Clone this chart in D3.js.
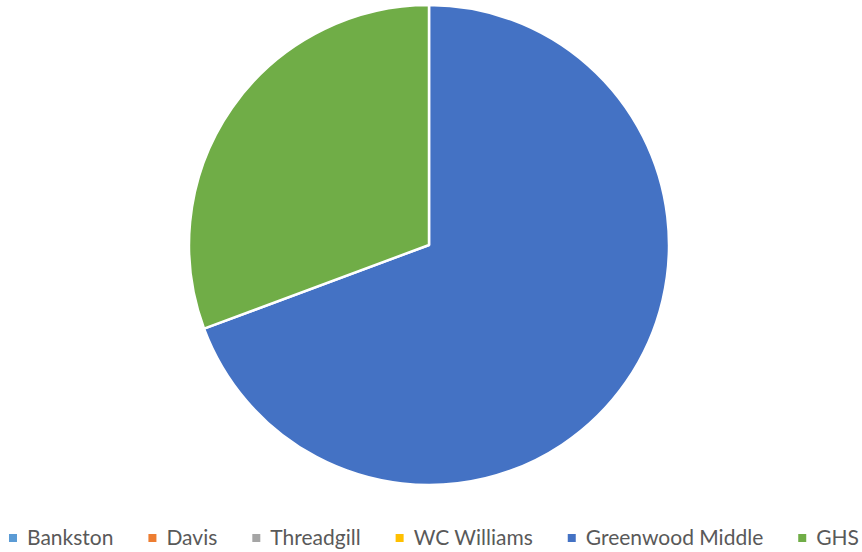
<!DOCTYPE html>
<html>
<head>
    <script src="https://d3js.org/d3.v7.min.js"></script>
    <style>
        body { margin: 0; padding: 0; background: white; }
        .legend-label { font-family: Lato, sans-serif; font-size: 21px; fill: #595959; }
    </style>
</head>
<body>
    <svg id="chart" width="862" height="552"></svg>
    <script>
        const schools = ['Bankston', 'Davis', 'Threadgill', 'WC Williams', 'Greenwood Middle', 'GHS'];
        const counts = [0, 0, 0, 0, 52, 23];
        const colors = ['#5B9BD5', '#ED7D31', '#A5A5A5', '#FFC000', '#4472C4', '#70AD47'];

        const svg = d3.select('#chart');
        const cx = 429, cy = 245, radius = 240;

        const data = schools.map((s, i) => ({ name: s, value: counts[i], color: colors[i] }));

        const pie = d3.pie().sort(null).value(d => d.value);
        const arc = d3.arc().innerRadius(0).outerRadius(radius);

        // slices
        svg.append('g')
            .attr('transform', `translate(${cx},${cy})`)
            .selectAll('path')
            .data(pie(data).filter(d => d.data.value > 0))
            .join('path')
            .attr('d', arc)
            .attr('fill', d => d.data.color)
            .attr('stroke', 'white')
            .attr('stroke-width', 2.5)
            .attr('stroke-linejoin', 'round');

        // legend
        const legend = svg.append('g');
        const sq = 8, textGap = 10, itemGap = 35, legendY = 538;
        const items = legend.selectAll('g')
            .data(data)
            .join('g');
        items.append('rect')
            .attr('width', sq).attr('height', sq)
            .attr('y', legendY - sq / 2)
            .attr('fill', d => d.color);
        items.append('text')
            .attr('class', 'legend-label')
            .attr('x', sq + textGap)
            .attr('y', legendY)
            .attr('dy', '0.35em')
            .text(d => d.name);

        let x = 0;
        items.each(function () {
            const w = sq + textGap + d3.select(this).select('text').node().getComputedTextLength();
            d3.select(this).attr('transform', `translate(${x},0)`);
            x += w + itemGap;
        });
        const total = x - itemGap;
        legend.attr('transform', `translate(${434 - total / 2},0)`);
    </script>
</body>
</html>
